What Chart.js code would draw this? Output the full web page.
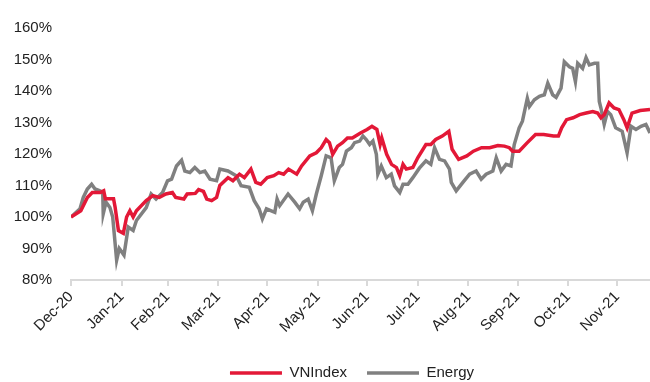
<!DOCTYPE html>
<html>
<head>
<meta charset="utf-8">
<script src="https://cdn.jsdelivr.net/npm/chart.js@4.4.0/dist/chart.umd.min.js"></script>
<style>
    html, body { margin: 0; padding: 0; background: #fff; }
    #wrap { width: 650px; height: 382px; position: relative; }
</style>
</head>
<body>
<div id="wrap"><canvas id="myChart"></canvas></div>
<script>
// x = days since 31 Dec 2020, month ends used as axis ticks
const monthEnds = [0, 31, 59, 90, 120, 151, 181, 212, 243, 273, 304, 334];
const monthLabels = ['Dec-20', 'Jan-21', 'Feb-21', 'Mar-21', 'Apr-21', 'May-21',
    'Jun-21', 'Jul-21', 'Aug-21', 'Sep-21', 'Oct-21', 'Nov-21'];
const yTicks = [80, 90, 100, 110, 120, 130, 140, 150, 160];

// [day, % of start]
const vnIndex = [
    [0, 100], [6, 102], [10, 106.2], [13, 107.8], [18, 107.8], [20, 108.3], [21, 105.8],
    [26, 105.8], [27, 103], [29, 95.7], [32, 94.8], [34, 100], [36, 102], [38, 100],
    [40, 102], [46, 105.2], [50, 106.8], [54, 106.2], [58, 107.3], [62, 107.8], [64, 106.2],
    [69, 105.7], [71, 107.3], [76, 107.5], [78, 108.7], [81, 108.1], [83, 105.7], [86, 105.2],
    [89, 106.2], [91, 110], [96, 112.5], [99, 111.5], [103, 113.6], [106, 112.5], [110, 115.2],
    [113, 111], [116, 110.4], [120, 112.5], [124, 113.1], [127, 114.1], [130, 113.6],
    [133, 115.2], [138, 113.6], [141, 116.2], [146, 119.4], [150, 120.4], [153, 122],
    [156, 124.6], [158, 123.6], [160, 119.9], [163, 122.5], [166, 123.6], [169, 125.1],
    [172, 125.1], [177, 126.7], [181, 127.8], [184, 128.8], [187, 127.8], [189, 123],
    [190, 125.1], [193, 119.9], [196, 116.7], [199, 115.7], [201, 113.1], [203, 116.7],
    [205, 115.2], [209, 115.7], [212, 118.8], [217, 123], [220, 123], [223, 124.6],
    [227, 125.7], [231, 127.2], [233, 121.5], [237, 118.3], [242, 119.4], [246, 120.9],
    [251, 122], [256, 122], [261, 122.7], [265, 122.5], [268, 122], [270, 120.9],
    [274, 120.9], [279, 123.6], [284, 126.2], [289, 126.2], [295, 125.7], [298, 125.7],
    [300, 128.3], [303, 130.9], [307, 131.5], [311, 132.5], [315, 133], [319, 133.5],
    [322, 133], [324, 131.5], [326, 132.5], [329, 136.2], [332, 134.6], [335, 134.1],
    [338, 130.9], [340, 128.3], [343, 133], [348, 133.8], [354, 134.1]
];

const energy = [
    [0, 100], [5.5, 102.6], [7.5, 106.2], [10, 108.9], [12.6, 110.4], [14.7, 108.9],
    [17.7, 108.3], [19.4, 107.8], [19.7, 101], [21.4, 104.7], [23.8, 103], [25.5, 100],
    [27.9, 86.3], [29.5, 90], [32.4, 87.9], [35, 96.8], [38, 95.7], [40, 98.9], [46, 103],
    [49, 107.3], [52, 105.7], [56, 107.8], [59, 111.5], [61.5, 112], [64.5, 116.2],
    [67.6, 118], [69.6, 114.6], [72.7, 114.1], [75.7, 115.7], [78.8, 114.1], [81.8, 114.6],
    [85, 112], [89, 111.5], [91, 115.2], [96, 114.6], [101, 113.1], [104, 109.9],
    [109, 109.4], [112, 105.2], [115, 102.6], [117, 99.4], [119.5, 102.6], [124.6, 101.5],
    [126, 105.7], [127.6, 103.6], [132.7, 107.3], [136.8, 104.7], [139.8, 102.6],
    [142, 104.7], [145, 105.7], [147.6, 102], [150, 107.3], [153, 113.1], [156, 119.4],
    [159, 118.8], [161, 111.5], [164, 115.7], [166, 116.7], [168.4, 120.9], [171.4, 122],
    [173.4, 123.6], [176.5, 124.1], [178.5, 125.7], [180.5, 124.6], [182.6, 123],
    [184.6, 124.1], [186.7, 119.9], [187.6, 113.6], [189.7, 116.2], [192.8, 112.5],
    [195.8, 113.6], [197.8, 109.9], [201, 107.8], [203, 110.4], [206, 110.4], [209, 112.5],
    [213, 115.5], [217, 117.8], [220, 116.7], [222.3, 122], [225.3, 118.3], [228.4, 117.8],
    [231.4, 115.2], [232.5, 111], [235.5, 108.3], [239.6, 111], [243.7, 113.6],
    [247.7, 114.6], [250.8, 112], [253.8, 113.6], [257.9, 114.6], [260, 118.8], [263, 114.6],
    [266, 116.7], [269, 116.2], [271, 123], [274, 128.3], [276, 130.4], [279, 137.7],
    [280.3, 135.1], [283.3, 137.2], [286.4, 138.3], [289.4, 138.8], [291.5, 142.5],
    [294.5, 138.8], [296.6, 138], [299.6, 140.9], [301.6, 149.3], [304.7, 147.7],
    [306.7, 147.2], [308.4, 143], [309.8, 148.8], [312.8, 147.2], [314.9, 150.6],
    [316.9, 148.3], [320, 148.8], [322, 148.8], [323, 136.7], [324, 134.6], [326, 129.4],
    [328, 133.5], [330, 132.5], [333, 128.3], [337, 127.2], [340, 120.4], [342.4, 128.8],
    [345.4, 127.8], [348.5, 128.8], [351.5, 129.4], [354, 126.7]
];

Chart.defaults.font.family = "'Liberation Sans', Arial, sans-serif";
Chart.defaults.font.size = 15;
Chart.defaults.color = '#222';

function toPoints(arr) {
    return arr.map(p => ({ x: p[0], y: p[1] }));
}

// nudge the legend right/down so it sits under the plot like the original
const shiftLegend = {
    id: 'shiftLegend',
    afterLayout(chart) {
        const lg = chart.legend;
        lg.left += 54;
        lg.top += 8.5;
        lg.bottom += 8.5;
    }
};

var ctx = document.getElementById('myChart').getContext('2d');

var myChart = new Chart(ctx, {
    type: 'line',
    data: {
        datasets: [{
            label: 'VNIndex',
            data: toPoints(vnIndex),
            borderColor: '#e31837',
            backgroundColor: '#e31837',
            borderWidth: 3.5,
            pointRadius: 0,
            tension: 0
        }, {
            label: 'Energy',
            data: toPoints(energy),
            borderColor: '#808080',
            backgroundColor: '#808080',
            borderWidth: 3.5,
            pointRadius: 0,
            tension: 0
        }]
    },
    options: {
        responsive: true,
        maintainAspectRatio: false,
        animation: false,
        layout: {
            padding: { top: 26, left: 0, right: 0, bottom: 0 }
        },
        scales: {
            x: {
                type: 'linear',
                min: 0,
                max: 354,
                afterBuildTicks: (scale) => {
                    scale.ticks = monthEnds.map(v => ({ value: v }));
                },
                afterFit: (scale) => {
                    scale.height = 57;
                    scale.paddingLeft = 0;
                    scale.paddingRight = 0;
                },
                ticks: {
                    autoSkip: false,
                    minRotation: 45,
                    maxRotation: 45,
                    padding: 2,
                    callback: (v) => monthLabels[monthEnds.indexOf(v)]
                },
                grid: {
                    drawOnChartArea: false,
                    drawTicks: true,
                    tickLength: 6,
                    color: '#d9d9d9',
                    lineWidth: 2
                },
                border: { color: '#d9d9d9', width: 2 }
            },
            y: {
                min: 80,
                max: 160,
                afterBuildTicks: (scale) => {
                    scale.ticks = yTicks.map(v => ({ value: v }));
                },
                afterFit: (scale) => {
                    scale.width = 71;
                },
                ticks: {
                    padding: 19,
                    callback: (v) => v + '%'
                },
                grid: { display: false, drawTicks: false },
                border: { display: false }
            }
        },
        plugins: {
            legend: {
                position: 'bottom',
                labels: {
                    usePointStyle: true,
                    pointStyle: 'line',
                    pointStyleWidth: 52,
                    padding: 20
                }
            },
            tooltip: { enabled: false }
        }
    },
    plugins: [shiftLegend]
});
</script>
</body>
</html>
